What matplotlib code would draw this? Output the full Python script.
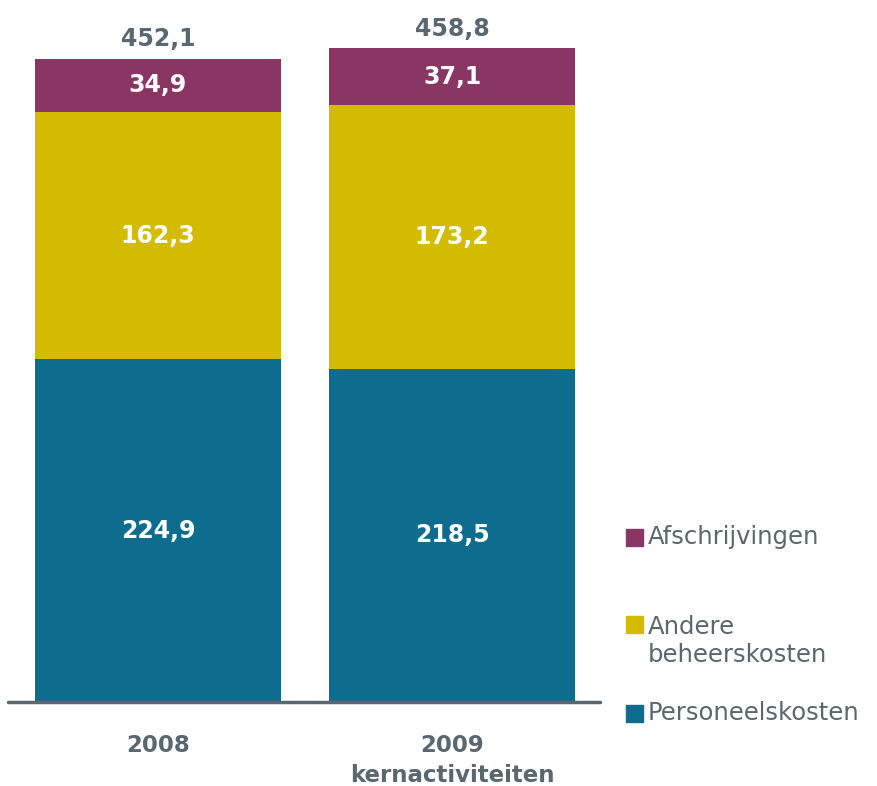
import numpy as np
import matplotlib
matplotlib.use("Agg")
import matplotlib.pyplot as plt
from matplotlib.patches import Rectangle

# === DATA ===
categories = ["2008", "2009\nkernactiviteiten"]
personeel = [224.9, 218.5]
andere = [162.3, 173.2]
afschrijvingen = [34.9, 37.1]
totals = ["452,1", "458,8"]
series_names = ["Afschrijvingen", "Andere\nbeheerskosten", "Personeelskosten"]

# === STYLE ===
c_pers = "#0E6C8F"
c_andere = "#D3BB02"
c_afs = "#8A3665"
grey = "#5B6770"

W, H = 877, 786
fig = plt.figure(figsize=(W / 100, H / 100), dpi=100)
# axes covers the baseline span (x 8..600 px), y 0 at 702 px
ax = fig.add_axes([8 / W, 1 - 702 / H, 592 / W, 702 / H])

x = np.arange(len(categories))
w = 0.837
pers = np.array(personeel)
andr = np.array(andere)
afs = np.array(afschrijvingen)

ax.bar(x, pers, w, color=c_pers)
ax.bar(x, andr, w, bottom=pers, color=c_andere)
ax.bar(x, afs, w, bottom=pers + andr, color=c_afs)

fmt = lambda v: f"{v:.1f}".replace(".", ",")
lbl = dict(ha="center", va="center", color="white", fontsize=17, fontweight="bold")
for i in x:
    ax.text(i, pers[i] / 2, fmt(pers[i]), **lbl)
    ax.text(i, pers[i] + andr[i] / 2, fmt(andr[i]), **lbl)
    ax.text(i, pers[i] + andr[i] + afs[i] / 2, fmt(afs[i]), **lbl)
    top = pers[i] + andr[i] + afs[i]
    ax.text(i, top + 13, totals[i], ha="center", va="center", color=grey,
            fontsize=17, fontweight="bold")

ax.plot([-0.51, 1.503], [0, 0], color=grey, lw=2.5, solid_capstyle="round", clip_on=False)
ax.set_xlim(-0.51, 1.503)
ax.set_ylim(0, 460.6)
ax.axis("off")

# category labels
for i, cat in enumerate(categories):
    ax.text(i, -21, cat, ha="center", va="top", color=grey, fontsize=16.5,
            fontweight="bold", linespacing=1.38)

# legend, drawn by hand
leg = [(c_afs, series_names[0], 537, 537),
       (c_andere, series_names[1], 641, 624),
       (c_pers, series_names[2], 713, 713)]
for col, name, yc, sq_y in leg:
    fig.patches.append(Rectangle((626 / W, 1 - (sq_y + 9) / H), 17 / W, 17 / H,
                                 transform=fig.transFigure, color=col))
    fig.text(648 / W, 1 - yc / H, name, ha="left", va="center", color=grey,
             fontsize=17.5, linespacing=1.25)

fig.savefig("out.png", dpi=100)
